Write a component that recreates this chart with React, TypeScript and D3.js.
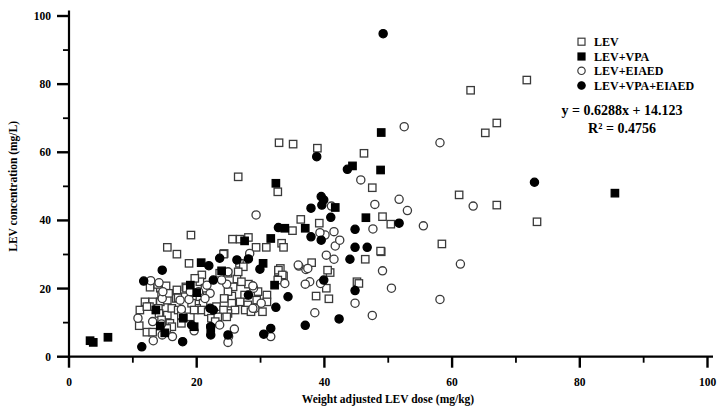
import React from "react";
import * as d3 from "d3";

const xTicks = [0, 20, 40, 60, 80, 100];
const yTicks = [0, 20, 40, 60, 80, 100];
const minorTicks = [10, 30, 50, 70, 90];
const seriesNames = ["LEV", "LEV+VPA", "LEV+EIAED", "LEV+VPA+EIAED"];
const equationText = "y = 0.6288x + 14.123";
const r2Text = "R² = 0.4756";

const levPoints: [number, number][] = [
  [26.5, 52.8], [32.9, 62.8], [35.1, 62.4], [38.9, 61.2], [46.2, 59.7], [47.5, 49.6], [32.7, 48.4],
  [61.1, 47.5], [62.9, 78.2], [71.7, 81.2], [65.2, 65.7], [67, 68.6], [67, 44.5], [73.3, 39.6],
  [58.4, 33.1], [50.4, 38.9], [49.1, 41.1], [48.9, 30.8], [46.4, 28.6], [45.1, 22.0], [45.4, 21.5],
  [40.7, 17], [38.7, 17.8], [40.3, 20.1], [40.9, 24.7], [40.5, 25.4], [38, 27.6], [39.2, 39.2],
  [36.3, 40.3], [35, 37], [33.3, 33.3], [33.6, 32.1], [30.9, 32.1], [29.3, 32.1], [32.8, 24.9],
  [33.1, 25.9], [33.6, 23.7], [30.3, 13.2], [48.8, 31.0], [19.1, 35.7], [15.4, 32.1], [16.9, 30.1],
  [25.6, 34.5], [26.8, 34.5], [28.1, 35.0], [24.3, 30.3], [18.8, 27.4], [24.2, 30.1],
  [26.7, 27.4], [27.3, 26.4], [25.5, 17.8], [21.1, 18.8], [23.1, 14.7],
  [28.1, 21.3], [27.5, 18.1], [26.8, 16.1], [28, 15.2], [27.6, 13.7], [28.5, 13.2], [26.3, 22.8],
  [26.5, 24.9], [27, 22], [25.7, 20.5], [24.9, 19.1], [24.3, 17.1], [25.5, 15.7], [26, 13.7],
  [24.9, 12.7], [24.2, 13.7], [24.7, 11.7], [20.8, 24], [20.5, 22], [21.3, 20.1], [20.5, 17.6],
  [21, 15.7], [20, 14.2], [20.8, 13.7], [21.8, 13.2], [22.3, 11.3], [23.3, 11.7], [22.9, 10.3],
  [23.6, 24.5], [24.9, 24.5], [32.8, 25.4], [33.4, 24], [32.7, 22.5], [29.6, 19.1], [29.4, 16.6],
  [31, 18.1], [31, 16.1],
  [11.9, 16.1], [13.1, 16.1], [14.3, 16.1], [15.4, 16.6], [16.8, 17.1], [18.3, 20.5], [19.7, 23.0],
  [14.3, 20.1], [15.2, 20.8], [14.5, 18.1], [15.6, 18.6], [12.6, 14.7], [14, 14.2], [14.1, 12.7],
  [15.4, 12.2], [16.1, 14.2], [17.1, 13.7], [17.6, 12.2], [19, 11.7], [14.5, 10.8], [15.8, 9.8],
  [12.2, 7.2], [13.1, 7.2], [11.1, 13.7], [11, 9.1], [12.7, 20.4], [13.9, 21.2],
  [17.1, 17.3], [18.2, 17.6], [18.4, 20.1], [16.9, 19.6], [17.6, 9.8], [19.2, 15.7], [19.6, 13.7],
  [16.1, 8.8], [15.3, 8.3], [12.2, 14.7],
];

const levVpaPoints: [number, number][] = [
  [3.3, 4.7], [3.8, 4.2], [6.1, 5.7], [17.9, 11.3], [19.6, 8.8], [19, 21.0], [20.7, 27.6],
  [20, 18.8], [22.2, 8.3], [23.9, 25.2], [13.6, 13.7], [14.3, 9.0], [15.0, 7.0],
  [30.4, 27.4], [32.2, 21.0], [31.6, 34.7], [27.5, 34], [32.4, 50.9], [33.8, 37.7], [37, 37.7],
  [41.7, 43.8], [46.5, 40.8], [44.4, 56], [48.8, 54.8], [48.9, 65.8], [85.5, 48],
];

const levEiaedPoints: [number, number][] = [
  [52.5, 67.5], [58.1, 62.8], [45.7, 51.9], [51.7, 46.2], [47.9, 44.7], [53, 42.9], [63.3, 44.2],
  [61.3, 27.2], [58.1, 16.8], [55.5, 38.4], [47.6, 37.5], [49.1, 25.2], [50.5, 20.1], [44.8, 15.7],
  [47.5, 12.1], [38.5, 12.9], [39.4, 21.5], [37.7, 22.0], [37, 21.3], [40.3, 29.8], [41.5, 28.6],
  [37.1, 25.6], [36, 26.6], [41.7, 32.5], [42.4, 34.2], [41.5, 36.7], [40.1, 35.7], [39.3, 36.4],
  [41.1, 44.2], [29.3, 41.6], [33.8, 21.5], [31.6, 5.9], [28.3, 30.3], [35.9, 26.9], [37.4, 25.9],
  [28.9, 20.1], [30.1, 15.7], [29.1, 14.2], [24.7, 21.3], [25.9, 8.1], [25, 5.9], [24.9, 4.2],
  [23.6, 9.3], [23.9, 22.5], [24.9, 24.9], [21.6, 21], [20.3, 19.1], [22.1, 18.6], [21.3, 17.1],
  [19.6, 7.6], [18.8, 16.8], [17.4, 16.6], [17.6, 13.9], [16.2, 5.9], [14.6, 6.4], [14.5, 9.6],
  [13.1, 10.3], [13.2, 4.7], [10.8, 11.3], [14.6, 17.1], [14.7, 19.1], [12.8, 22.3], [14.1, 21.7],
  [19, 19.1], [28.8, 20.8], [28.8, 14.2],
];

const levVpaEiaedPoints: [number, number][] = [
  [49.2, 94.8], [72.9, 51.2], [38.8, 58.7], [43.6, 55], [39.5, 47], [39.9, 46], [39.6, 44.5],
  [37.9, 43.6], [41, 40.9], [51.7, 39.2], [44.8, 37.4], [44.8, 32.1], [46.7, 32.1], [44, 28.6],
  [44.8, 19.4], [42.3, 11.1], [37, 9.2], [39.9, 22.5], [39.5, 34.2], [37.9, 35.2], [32.8, 37.9],
  [34.3, 17.6], [32.4, 14.5], [30.5, 6.6], [31.6, 8.3], [11.4, 2.9], [17.8, 4.4], [14.6, 25.4],
  [11.7, 22.2], [19.2, 9.3], [21.9, 26.7], [22.2, 6.4], [22.6, 22.5], [23.6, 28.9], [26.3, 28.4],
  [24.9, 6.4], [28.1, 28.7], [29.9, 25.7], [28.1, 18.1], [22.2, 8.8], [22.1, 14.2], [22.6, 13.7],
];

const W = 726;
const H = 411;
const FONT = "'Liberation Serif', 'Times New Roman', serif";

export default function App() {
  const x = d3.scaleLinear().domain([0, 100]).range([69, 707.5]);
  const y = d3.scaleLinear().domain([0, 100]).range([356.7, 16]);
  const stroke = "#3a3a3a";
  const sq = 7.4;
  const cr = 4.1;

  const square = (p: [number, number], i: number, fill: string) => (
    <rect
      key={i}
      x={x(p[0]) - sq / 2}
      y={y(p[1]) - sq / 2}
      width={sq}
      height={sq}
      fill={fill}
      stroke={fill === "#000" ? "#000" : stroke}
      strokeWidth={1.3}
    />
  );
  const circle = (p: [number, number], i: number, fill: string) => (
    <circle
      key={i}
      cx={x(p[0])}
      cy={y(p[1])}
      r={cr}
      fill={fill}
      stroke={fill === "#000" ? "#000" : stroke}
      strokeWidth={1.3}
    />
  );

  const legendY = [41.7, 56.5, 70.8, 85.5];
  const legendX = 581.5;

  return (
    <svg
      width={W}
      height={H}
      style={{ position: "absolute", left: 0, top: 0, background: "#fff" }}
      fontFamily={FONT}
      fontWeight="bold"
    >
      <rect width={W} height={H} fill="#fff" />
      {/* points */}
      <g>{levPoints.map((p, i) => square(p, i, "#fff"))}</g>
      <g>{levEiaedPoints.map((p, i) => circle(p, i, "#fff"))}</g>
      <g>{levVpaPoints.map((p, i) => square(p, i, "#000"))}</g>
      <g>{levVpaEiaedPoints.map((p, i) => circle(p, i, "#000"))}</g>

      {/* axes */}
      <line x1={x(0)} x2={x(0)} y1={10.5} y2={y(0) + 1} stroke="#000" strokeWidth={2.2} />
      <line x1={x(0) - 1} x2={713} y1={y(0)} y2={y(0)} stroke="#000" strokeWidth={2.2} />
      {yTicks.map((t) => (
        <g key={"yt" + t}>
          <line x1={x(0) - 12} x2={x(0)} y1={y(t)} y2={y(t)} stroke="#000" strokeWidth={2.4} />
          <text x={51} y={y(t)} dy="0.35em" textAnchor="end" fontSize={11.5}>
            {t}
          </text>
        </g>
      ))}
      {minorTicks.map((t) => (
        <line key={"ym" + t} x1={x(0) - 6} x2={x(0)} y1={y(t)} y2={y(t)} stroke="#000" strokeWidth={1.8} />
      ))}
      {xTicks.map((t) => (
        <g key={"xt" + t}>
          <line x1={x(t)} x2={x(t)} y1={y(0)} y2={y(0) + 11} stroke="#000" strokeWidth={2.4} />
          <text x={x(t)} y={386} textAnchor="middle" fontSize={11.5}>
            {t}
          </text>
        </g>
      ))}
      {minorTicks.map((t) => (
        <line key={"xm" + t} x1={x(t)} x2={x(t)} y1={y(0)} y2={y(0) + 6} stroke="#000" strokeWidth={1.8} />
      ))}

      {/* axis titles */}
      <text x={388} y={403} textAnchor="middle" fontSize={11.5}>
        Weight adjusted LEV dose (mg/kg)
      </text>
      <text
        transform={`translate(17, ${y(50) + 0}) rotate(-90)`}
        textAnchor="middle"
        fontSize={11.5}
      >
        LEV concentration (mg/L)
      </text>

      {/* legend */}
      {seriesNames.map((name, i) => {
        const ly = legendY[i];
        const filled = i === 1 || i === 3;
        const isSq = i === 0 || i === 1;
        return (
          <g key={name}>
            {isSq ? (
              <rect
                x={legendX - 3.5}
                y={ly - 3.5}
                width={7}
                height={7}
                fill={filled ? "#000" : "#fff"}
                stroke={filled ? "#000" : stroke}
                strokeWidth={1.2}
              />
            ) : (
              <circle
                cx={legendX}
                cy={ly}
                r={3.7}
                fill={filled ? "#000" : "#fff"}
                stroke={filled ? "#000" : stroke}
                strokeWidth={1.2}
              />
            )}
            <text x={594} y={ly} dy="0.35em" fontSize={12}>
              {name}
            </text>
          </g>
        );
      })}

      <text x={622} y={110} dy="0.35em" textAnchor="middle" fontSize={14}>
        {equationText}
      </text>
      <text x={622} y={128} dy="0.35em" textAnchor="middle" fontSize={14}>
        {r2Text}
      </text>
    </svg>
  );
}
